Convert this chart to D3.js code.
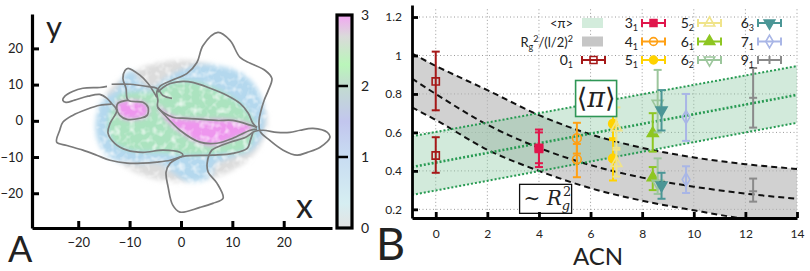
<!DOCTYPE html>
<html>
<head>
<meta charset="utf-8">
<script src="https://cdn.jsdelivr.net/npm/d3@7"></script>
<style>
  body { margin: 0; background: #fff; }
  text { font-family: Lato, "Open Sans", sans-serif; fill: #222; }
  .math { font-family: "DejaVu Serif", "Liberation Serif", serif; }
</style>
</head>
<body>
<svg id="fig" width="810" height="271"></svg>
<script>
// ---------- panel A data (all in simulation units) ----------
var ticksA = [-20, -10, 0, 10, 20];
var barTicks = [0, 1, 2, 3];
var barStops = [0, 0.35, 1, 1.5, 2, 2.3, 2.7, 3];
var barColors = ["#e3e3e3", "#d6eef2", "#c8dcf2", "#c2c6ee", "#c2dcd0", "#baf6ba", "#dadada", "#f2a6f2"];

// density cloud: centre x, centre y, radius x, radius y
var grayCloud = [0.2, -0.1, 16.6, 16.8];
var blueCloud = [[-16.6,-2.6],[-16.4,1.5],[-15.8,4.8],[-14.2,7.0],[-12.3,9.0],[-11.1,12.6],[-9.55,13.9],[-8.0,11.2],
  [-6.0,9.0],[-3.1,11.7],[-0.2,13.9],[3.7,15.6],[8.0,15.0],[11.5,13.4],[14.4,9.8],[15.8,5.7],[16.4,1.5],[15.8,-4.0],
  [13.8,-8.1],[9.55,-10.3],[6.6,-12.3],[6.0,-15.0],[3.7,-16.7],[0.8,-16.4],[-2.1,-13.7],[-4.1,-11.7],[-9.0,-11.7],
  [-13.8,-10.3],[-15.8,-6.8]];
var greenCloud = [[-14.2,-2.6],[-13.8,2.1],[-12.9,4.8],[-11.9,7.3],[-9.0,7.9],[-6.0,8.1],[-4.1,9.0],[-1.75,10.6],
  [1.75,10.9],[5.65,9.5],[9.55,6.8],[12.5,3.4],[14.4,-1.2],[13.8,-5.4],[12.5,-8.1],[7.6,-9.0],[1.75,-9.5],
  [-4.1,-8.7],[-9.9,-8.1],[-12.9,-6.2]];
var pinkMain = [[-4.5,4.3],[-1.6,1.2],[3.7,0.4],[10.1,0.1],[13.8,-1.5],[13.5,-2.9],[10.1,-5.1],[6.6,-6.8],
  [3.3,-5.9],[-0.2,-2.9],[-3.1,0.7]];
var pinkLeft = [[-12.5,4.8],[-9.9,5.7],[-7.4,5.1],[-6.4,3.7],[-6.6,1.5],[-8.0,0.7],[-10.5,0.4],[-11.9,1.5]];

// polymer configuration, traced strand by strand
var strands = [
  [[-1.75,6.2],[-3.5,7.0],[-4.7,9.0],[-6.6,9.5],[-9.9,10.1],[-13.5,10.1]],
  [[-14.4,9.5],[-15.8,9.2],[-19.1,9.0],[-21.1,8.1],[-22.6,6.8],[-23.0,5.7],[-22.4,5.1],[-20.7,5.7],[-18.1,6.8],
   [-15.8,7.3],[-14.4,6.2],[-13.5,4.8],[-12.5,2.9],[-13.8,-0.7],[-14.2,-3.4],[-12.9,-6.2],[-10.5,-8.1],[-7.4,-8.7],
   [-3.5,-8.1],[-0.2,-8.7],[0.4,-9.5],[-0.2,-10.1],[-2.1,-11.7],[-2.9,-14.2],[-2.5,-18.3],[-1.6,-23.3],[-0.2,-25.2],
   [3.7,-23.9],[6.2,-22.8],[8.2,-21.4],[7.0,-17.2],[5.3,-14.2],[5.1,-11.7],[6.0,-8.1],[7.0,-7.3],[9.55,-5.9],
   [12.5,-4.6],[14.4,-2.9],[16.0,-2.6],[18.7,-3.2],[21.2,-3.2],[23.2,-2.6],[25.7,-2.1],[28.5,-3.2],[29.0,-4.6],
   [27.1,-7.3],[24.6,-8.7],[22.6,-9.5],[19.9,-8.1],[17.3,-5.4],[15.4,-2.9],[15.2,0.1],[15.6,2.9],[16.2,5.7],
   [17.0,8.4],[17.7,11.7],[16.4,13.9],[13.5,15.9],[11.5,17.5],[9.55,22.2],[7.2,24.4],[4.3,20.8],[3.1,16.1],
   [1.2,13.1],[-1.75,11.2],[-4.1,9.5],[-4.7,7.9],[-4.5,5.7],[-4.5,3.7],[-1.6,1.0],[1.2,0.7],[7.0,0.1],[10.1,0.1],
   [13.5,-1.2],[14.8,-1.8]],
  [[-4.5,7.9],[-3.5,9.2],[-2.1,10.3],[0.4,10.9],[2.3,10.6],[5.3,9.2],[9.0,7.0],[11.5,4.8],[13.1,2.1],[14.0,-0.7],
   [14.8,-1.8]],
  [[-4.7,6.5],[-5.5,8.4],[-6.4,10.3],[-8.0,12.6],[-10.3,14.5],[-10.9,13.9],[-11.3,11.7],[-10.7,9.0],[-10.3,5.7],
   [-7.4,5.1],[-6.4,3.7],[-6.6,1.5],[-8.0,0.7],[-10.5,0.4],[-11.9,1.5],[-12.5,3.4],[-12.3,4.8],[-10.3,5.7]],
  [[-4.5,3.7],[-3.5,2.1],[-0.2,-2.6],[3.7,-5.9],[7.0,-6.2],[10.1,-4.8],[13.5,-2.6],[14.8,-2.3]],
  [[-13.5,4.6],[-15.8,4.3],[-18.3,3.2],[-21.1,1.5],[-23.0,-0.4],[-23.6,-2.6],[-24.2,-5.9],[-22.2,-6.8],[-19.1,-8.1],
   [-16.4,-9.5],[-13.8,-10.9],[-10.5,-11.7],[-7.4,-11.7],[-4.7,-11.4],[-2.1,-10.9],[0.4,-9.8],[6.2,-9.5],
   [10.1,-9.0],[12.9,-7.6],[13.5,-5.4],[14.0,-3.2]]
];

// ---------- panel B data ----------
var ticksBx = [0, 2, 4, 6, 8, 10, 12, 14];
var ticksBy = [0.2, 0.4, 0.6, 0.8, 1, 1.2];

var piBandX = [-0.92, 14];
var piCenter = [0.42, 0.795];
var piUpper = [0.58, 0.945];
var piLower = [0.275, 0.65];

var rgBandX = [-0.92, 0, 2, 4, 6, 8, 10, 12, 14];
var rgCenter = [0.88, 0.80, 0.64, 0.52, 0.43, 0.365, 0.318, 0.282, 0.255];
var rgUpper = [1.01, 0.946, 0.82, 0.69, 0.59, 0.52, 0.47, 0.435, 0.41];
var rgLower = [0.73, 0.665, 0.51, 0.40, 0.31, 0.245, 0.195, 0.15, 0.12];

var knots = ["0_1", "3_1", "4_1", "5_1", "5_2", "6_1", "6_2", "6_3", "7_1", "9_1"];
var acn =    [0, 4.0, 5.47, 6.87, 7.0, 8.41, 8.6, 8.75, 9.7, 12.3];
var piMean = [0.48, 0.52, 0.57, 0.645, 0.625, 0.595, 0.75, 0.715, 0.68, 0.78];
var piLo =   [0.39, 0.44, 0.49, 0.56, 0.52, 0.50, 0.60, 0.61, 0.556, 0.625];
var piHi =   [0.575, 0.615, 0.65, 0.77, 0.73, 0.70, 0.925, 0.82, 0.80, 0.935];
var rgMean = [0.865, 0.515, 0.46, 0.465, 0.44, 0.365, 0.335, 0.325, 0.355, 0.294];
var rgLo =   [0.715, 0.42, 0.367, 0.35, 0.37, 0.30, 0.28, 0.255, 0.285, 0.24];
var rgHi =   [1.02, 0.60, 0.54, 0.57, 0.51, 0.42, 0.465, 0.39, 0.424, 0.36];

var knotColor = ["#a51818", "#e0164c", "#ffa014", "#ffd200", "#f0e48a", "#8ec622", "#9cc69c", "#4b9696", "#a9b6e6", "#8a8a8a"];
var knotShape = ["square", "square", "circle", "circle", "up", "up", "down", "down", "diamond", "none"];
var knotFilled = [false, true, false, true, false, true, false, true, false, false];

var svg = d3.select("#fig");

// ================= PANEL A =================
var xA = d3.scaleLinear().domain([-29, 29.4]).range([32, 332]);
var yA = d3.scaleLinear().domain([-29.6, 29.5]).range([228, 14]);

var defs = svg.append("defs");
// blurred, mottled look of the density clouds
var soft = defs.append("filter").attr("id", "soft")
  .attr("x", "-20%").attr("y", "-20%").attr("width", "140%").attr("height", "140%");
soft.append("feGaussianBlur").attr("in", "SourceGraphic").attr("stdDeviation", 2.6).attr("result", "b");
soft.append("feTurbulence").attr("type", "fractalNoise").attr("baseFrequency", 0.14)
  .attr("numOctaves", 2).attr("seed", 7).attr("result", "n");
soft.append("feColorMatrix").attr("in", "n").attr("type", "matrix")
  .attr("values", "0 0 0 0 0  0 0 0 0 0  0 0 0 0 0  0 0 0 -1.7 1.8").attr("result", "na");
soft.append("feComposite").attr("in", "b").attr("in2", "na").attr("operator", "in");

var clouds = svg.append("g").attr("filter", "url(#soft)");
clouds.append("ellipse")
  .attr("cx", xA(grayCloud[0])).attr("cy", yA(grayCloud[1]))
  .attr("rx", xA(grayCloud[2]) - xA(0)).attr("ry", yA(0) - yA(grayCloud[3]))
  .attr("fill", "#dcdcdc");

var blob = d3.line().x(d => xA(d[0])).y(d => yA(d[1])).curve(d3.curveCatmullRomClosed);
clouds.append("path").attr("d", blob(blueCloud)).attr("fill", "#b4d8ee");
clouds.append("path").attr("d", blob(greenCloud)).attr("fill", "#abe3bf");
clouds.append("path").attr("d", blob(pinkMain)).attr("fill", "#ee96ee");
clouds.append("path").attr("d", blob(pinkLeft)).attr("fill", "#ee96ee");

var chain = d3.line().x(d => xA(d[0])).y(d => yA(d[1])).curve(d3.curveCatmullRom.alpha(0.5));
svg.append("g").selectAll("path").data(strands).enter().append("path")
  .attr("d", chain)
  .attr("fill", "none")
  .attr("stroke", "#7a7a7a")
  .attr("stroke-width", 1.7)
  .attr("stroke-linejoin", "round");

var axA = svg.append("g").attr("transform", "translate(0,228)")
  .call(d3.axisBottom(xA).tickValues(ticksA).tickSizeInner(-7).tickSizeOuter(0).tickPadding(10));
var ayA = svg.append("g").attr("transform", "translate(32,0)")
  .call(d3.axisLeft(yA).tickValues(ticksA).tickSizeInner(-7).tickSizeOuter(0).tickPadding(9));
[axA, ayA].forEach(function(g) {
  g.select(".domain").attr("stroke", "#000").attr("stroke-width", 3.2);
  g.selectAll(".tick line").attr("stroke", "#000").attr("stroke-width", 3);
  g.selectAll(".tick text").attr("font-size", 13).attr("font-family", "Lato, sans-serif").attr("fill", "#222");
});

svg.append("text").attr("x", 46).attr("y", 38).attr("font-size", 31).text("y");
svg.append("text").attr("x", 296).attr("y", 218).attr("font-size", 34).text("x");
svg.append("text").attr("x", 8).attr("y", 262).attr("font-size", 36).text("A");

// colour bar
var cb = d3.scaleLinear().domain([0, 3]).range([228, 15]);
var grad = defs.append("linearGradient").attr("id", "cbar")
  .attr("x1", 0).attr("y1", 1).attr("x2", 0).attr("y2", 0);
barStops.forEach(function(v, i) {
  grad.append("stop").attr("offset", v / 3).attr("stop-color", barColors[i]);
});
svg.append("rect").attr("x", 337).attr("y", cb(3)).attr("width", 15).attr("height", cb(0) - cb(3))
  .attr("fill", "url(#cbar)").attr("stroke", "#000").attr("stroke-width", 3.2);
svg.append("g").selectAll("line").data([1, 2]).enter().append("line")
  .attr("x1", 338).attr("x2", 348).attr("y1", d => cb(d)).attr("y2", d => cb(d))
  .attr("stroke", "#000").attr("stroke-width", 2.5);
svg.append("g").selectAll("text").data(barTicks).enter().append("text")
  .attr("x", 361).attr("y", d => cb(d) + 5).attr("font-size", 14).text(d => d);

// ================= PANEL B =================
var xB = d3.scaleLinear().domain([-0.92, 14]).range([412, 797]);
var yB = d3.scaleLinear().domain([0.155, 1.2625]).range([218, 5]);

defs.append("clipPath").attr("id", "plotB").append("rect")
  .attr("x", xB(-0.92)).attr("y", yB(1.2625)).attr("width", xB(14) - xB(-0.92)).attr("height", yB(0.155) - yB(1.2625));

// grid
var grid = svg.append("g").attr("stroke", "#9a9a9a").attr("stroke-width", 1).attr("stroke-dasharray", "1,2.5");
grid.selectAll(".gx").data(ticksBx).enter().append("line")
  .attr("x1", d => xB(d)).attr("x2", d => xB(d)).attr("y1", yB(1.24)).attr("y2", yB(0.155));
grid.selectAll(".gy").data(ticksBy).enter().append("line")
  .attr("y1", d => yB(d)).attr("y2", d => yB(d)).attr("x1", xB(-0.92)).attr("x2", xB(14));

var plot = svg.append("g").attr("clip-path", "url(#plotB)");

var rgArea = d3.area().x((d, i) => xB(rgBandX[i])).y0((d, i) => yB(rgLower[i])).y1((d, i) => yB(rgUpper[i]))
  .curve(d3.curveMonotoneX);
var piArea = d3.area().x((d, i) => xB(piBandX[i])).y0((d, i) => yB(piLower[i])).y1((d, i) => yB(piUpper[i]));

plot.append("path").attr("d", rgArea(rgBandX)).attr("fill", "#b4b4b4").attr("opacity", 0.62);
plot.append("path").attr("d", piArea(piBandX)).attr("fill", "#8fcaa4").attr("opacity", 0.4);

function bandLine(xs, ys, curve) {
  return d3.line().x((d, i) => xB(xs[i])).y((d, i) => yB(ys[i])).curve(curve)(xs);
}
[rgUpper, rgCenter, rgLower].forEach(function(ys) {
  plot.append("path").attr("d", bandLine(rgBandX, ys, d3.curveMonotoneX))
    .attr("fill", "none").attr("stroke", "#111").attr("stroke-width", 2).attr("stroke-dasharray", "6,4");
});
[piUpper, piCenter, piLower].forEach(function(ys, i) {
  plot.append("path").attr("d", bandLine(piBandX, ys, d3.curveLinear))
    .attr("fill", "none").attr("stroke", "#279a52").attr("stroke-width", i === 1 ? 2.6 : 2)
    .attr("stroke-dasharray", "2,2");
});

// symbols
function symbolPath(shape, size) {
  var t = { square: d3.symbolSquare, circle: d3.symbolCircle, up: d3.symbolTriangle, down: d3.symbolTriangle, diamond: d3.symbolDiamond }[shape];
  return d3.symbol().type(t).size(size)();
}
function drawMarker(g, k, cx, cy, size) {
  if (knotShape[k] === "none") return;
  g.append("path")
    .attr("d", symbolPath(knotShape[k], size))
    .attr("transform", "translate(" + cx + "," + cy + ")" + (knotShape[k] === "down" ? " rotate(180)" : ""))
    .attr("fill", knotFilled[k] ? knotColor[k] : "none")
    .attr("stroke", knotColor[k]).attr("stroke-width", 1.6);
}

function errorBar(g, k, x, m, lo, hi) {
  var cx = xB(x), cap = 4;
  g.append("line").attr("x1", cx).attr("x2", cx).attr("y1", yB(lo)).attr("y2", yB(hi))
    .attr("stroke", knotColor[k]).attr("stroke-width", 2);
  [lo, hi, m].forEach(function(v, j) {
    if (j === 2 && knotShape[k] !== "none") return;
    g.append("line").attr("x1", cx - cap).attr("x2", cx + cap).attr("y1", yB(v)).attr("y2", yB(v))
      .attr("stroke", knotColor[k]).attr("stroke-width", 2);
  });
  drawMarker(g, k, cx, yB(m), knotShape[k] === "circle" ? 60 : 52);
}

var pts = svg.append("g");
knots.forEach(function(name, k) {
  errorBar(pts, k, acn[k], piMean[k], piLo[k], piHi[k]);
  errorBar(pts, k, acn[k], rgMean[k], rgLo[k], rgHi[k]);
});

// annotation boxes
var piBox = svg.append("g");
piBox.append("rect").attr("x", xB(5.42)).attr("y", yB(0.87)).attr("width", 41).attr("height", 36)
  .attr("fill", "#fff").attr("stroke", "#2f9656").attr("stroke-width", 1.6);
piBox.append("text").attr("class", "math").attr("x", xB(5.42) + 20.5).attr("y", yB(0.87) + 27)
  .attr("text-anchor", "middle").attr("font-size", 27)
  .html('\u27E8<tspan font-style="italic">\u03C0</tspan>\u27E9');

var rgBox = svg.append("g");
rgBox.append("rect").attr("x", xB(3.25)).attr("y", yB(0.33)).attr("width", 52).attr("height", 29)
  .attr("fill", "#fff").attr("stroke", "#111").attr("stroke-width", 1.3);
rgBox.append("text").attr("class", "math").attr("x", xB(3.25) + 4).attr("y", yB(0.33) + 21)
  .attr("font-size", 20)
  .html('\u223C <tspan font-style="italic">R</tspan><tspan font-style="italic" font-size="13" dy="5">g</tspan><tspan font-size="13" dx="-7" dy="-14">2</tspan>');

// axes B
var axB = svg.append("g").attr("transform", "translate(0,218)")
  .call(d3.axisBottom(xB).tickValues(ticksBx).tickSizeInner(-6).tickSizeOuter(0).tickPadding(11));
var ayB = svg.append("g").attr("transform", "translate(412,0)")
  .call(d3.axisLeft(yB).tickValues(ticksBy).tickFormat(d3.format("~g")).tickSizeInner(-6).tickSizeOuter(0).tickPadding(10));
[axB, ayB].forEach(function(g) {
  g.select(".domain").attr("stroke", "#000").attr("stroke-width", 2.8);
  g.selectAll(".tick line").attr("stroke", "#000").attr("stroke-width", 2.8);
  g.selectAll(".tick text").attr("font-size", 12).attr("font-family", "Lato, sans-serif").attr("fill", "#333");
});

svg.append("text").attr("x", 598).attr("y", 265).attr("text-anchor", "middle").attr("font-size", 24).text("ACN");
svg.append("text").attr("x", 376).attr("y", 260).attr("font-size", 45).text("B");

// legend
var legend = svg.append("g");
var rowY = [23, 41.5, 60];
var colRight = [573, 638, 694, 754];

function subLabel(g, x, y, name) {
  var parts = name.split("_");
  var t = g.append("text").attr("x", x).attr("y", y).attr("text-anchor", "end").attr("font-size", 14);
  t.append("tspan").text(parts[0]);
  t.append("tspan").attr("font-size", 9).attr("dy", 3).text(parts[1]);
}

legend.append("text").attr("x", colRight[0]).attr("y", rowY[0] + 5).attr("text-anchor", "end").attr("font-size", 13)
  .text("<\u03C0>");
legend.append("text").attr("x", colRight[0]).attr("y", rowY[1] + 5).attr("text-anchor", "end").attr("font-size", 13)
  .html('R<tspan font-size="9" dy="3">g</tspan><tspan font-size="9" dy="-8">2</tspan><tspan dy="5">/(l/2)</tspan><tspan font-size="9" dy="-5">2</tspan>');
legend.append("rect").attr("x", 582).attr("y", rowY[0] - 5).attr("width", 21).attr("height", 10).attr("fill", "#d3ecdc");
legend.append("rect").attr("x", 582).attr("y", rowY[1] - 5).attr("width", 21).attr("height", 10).attr("fill", "#c6c6c6");

knots.forEach(function(name, k) {
  var col = k === 0 ? 0 : Math.floor((k - 1) / 3) + 1;
  var row = k === 0 ? 2 : (k - 1) % 3;
  var tx = colRight[col];
  var y = rowY[row];
  subLabel(legend, tx, y + 5, name);
  var x0 = tx + (col === 0 ? 9 : 4), x1 = x0 + 23;
  legend.append("line").attr("x1", x0).attr("x2", x1).attr("y1", y).attr("y2", y)
    .attr("stroke", knotColor[k]).attr("stroke-width", 2);
  [x0, x1].forEach(function(xx) {
    legend.append("line").attr("x1", xx).attr("x2", xx).attr("y1", y - 4).attr("y2", y + 4)
      .attr("stroke", knotColor[k]).attr("stroke-width", 2);
  });
  if (knotShape[k] === "none") {
    legend.append("line").attr("x1", (x0 + x1) / 2).attr("x2", (x0 + x1) / 2).attr("y1", y - 4).attr("y2", y + 4)
      .attr("stroke", knotColor[k]).attr("stroke-width", 2);
  }
  drawMarker(legend, k, (x0 + x1) / 2, y, 48);
});
</script>
</body>
</html>
